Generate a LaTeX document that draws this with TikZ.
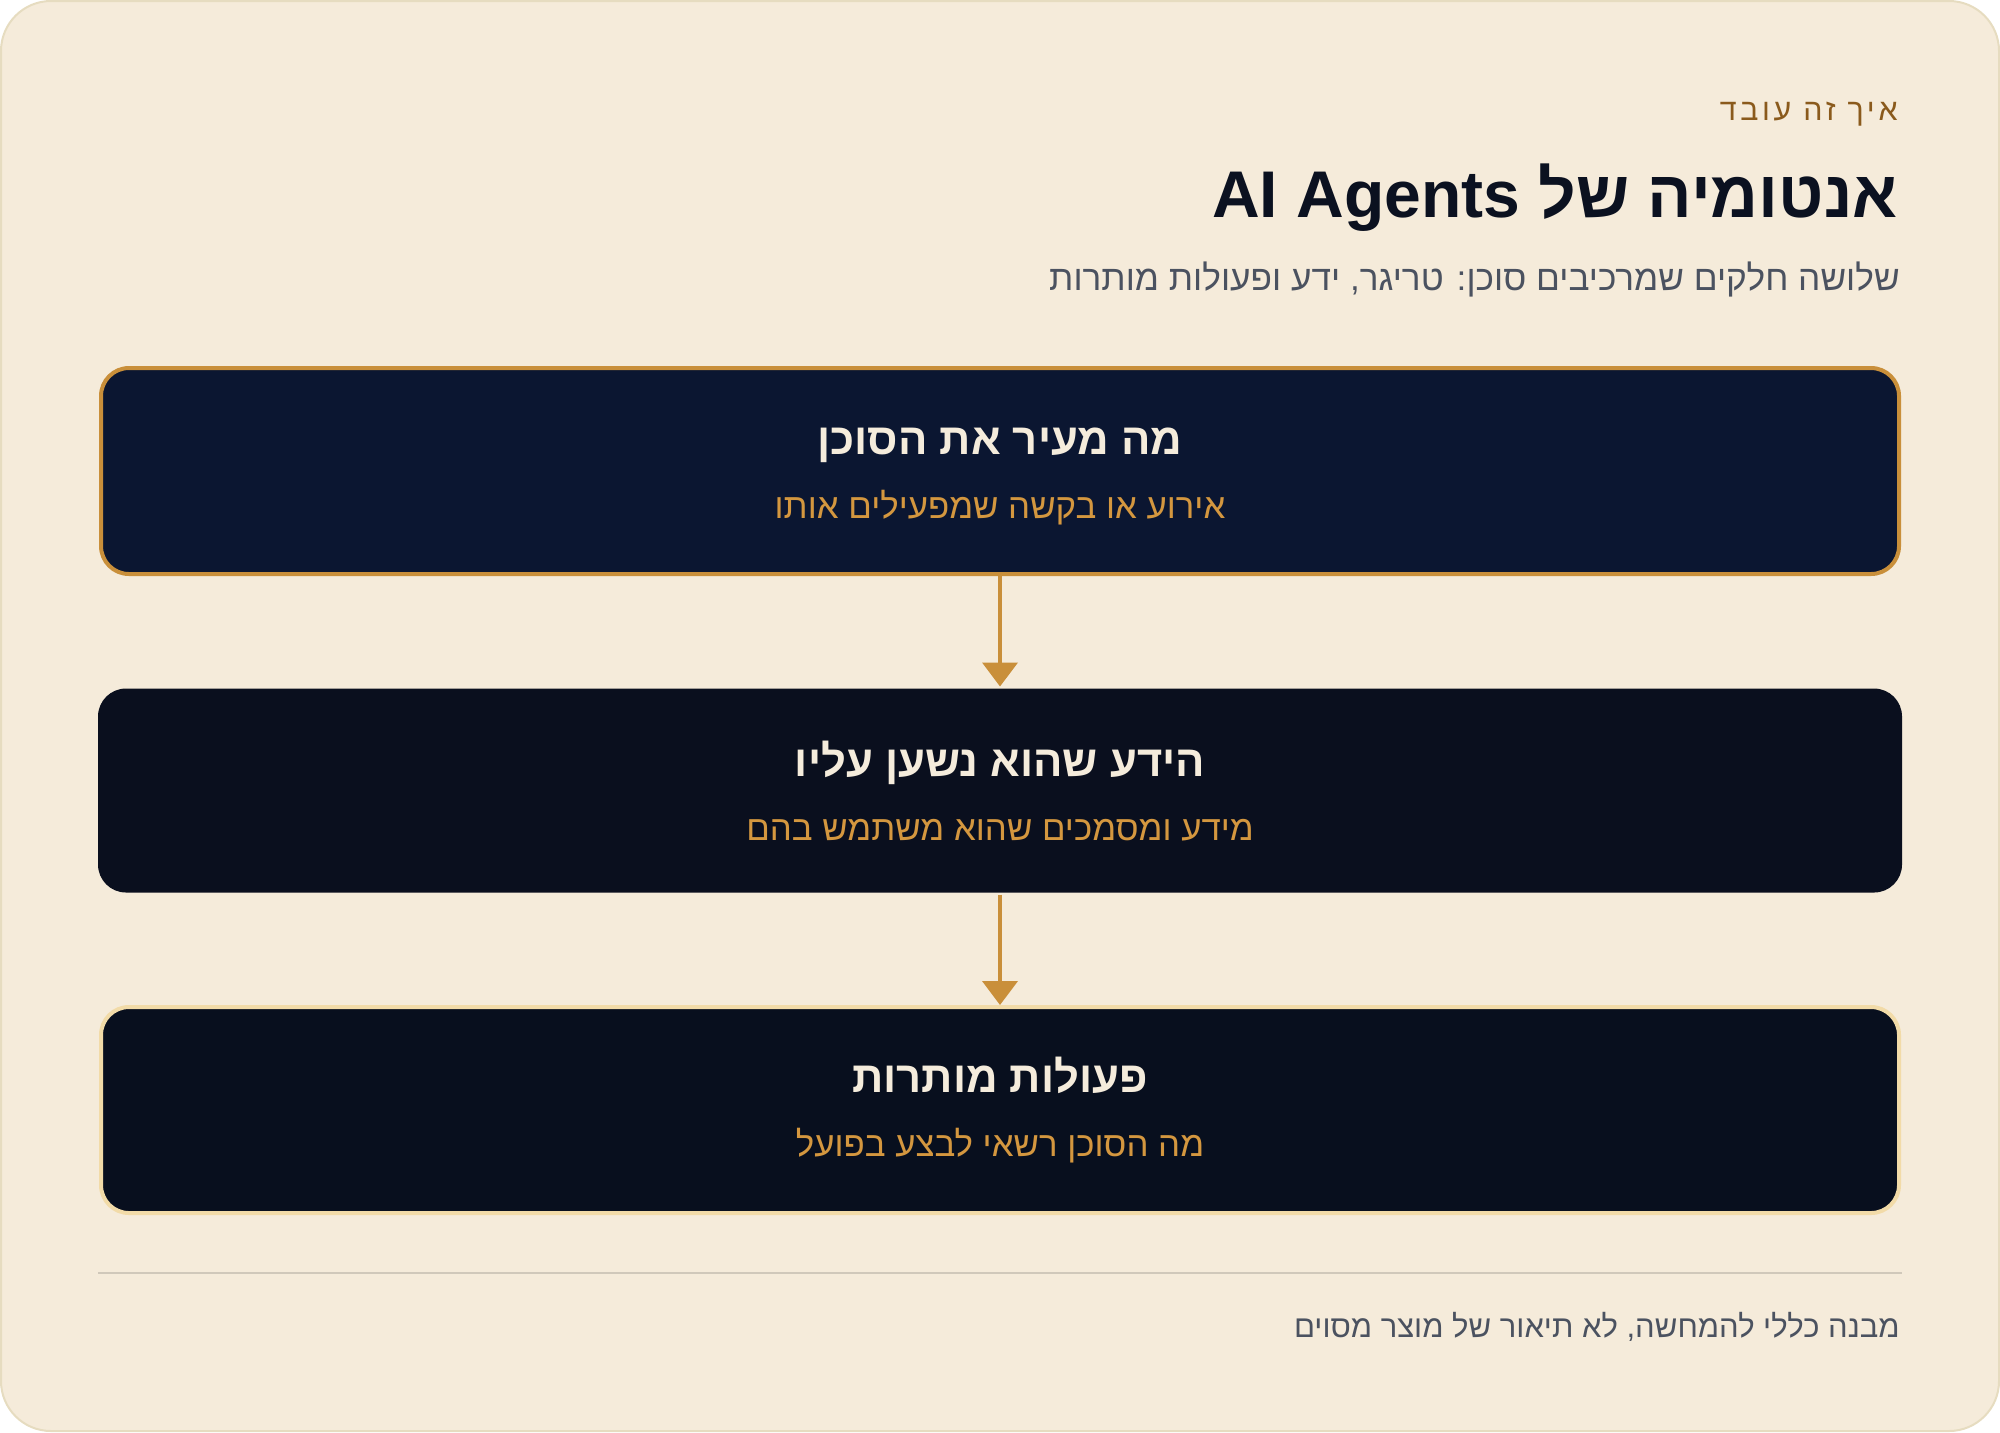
\documentclass[tikz,border=0pt]{standalone}
\usepackage{fontspec}
\TeXXeTstate=1
\newfontfamily\heb[Script=Hebrew]{Liberation Sans}
\newfontfamily\hebsp[Script=Hebrew,LetterSpace=12]{Liberation Sans}
\usetikzlibrary{arrows.meta}
\definecolor{bg}{HTML}{F5EBDA}
\definecolor{cardline}{HTML}{E6DCC0}
\definecolor{navyA}{HTML}{0B1631}
\definecolor{navyB}{HTML}{0A0F1E}
\definecolor{navyC}{HTML}{080F1E}
\definecolor{goldline}{HTML}{C98F3A}
\definecolor{paleline}{HTML}{F2DBA8}
\definecolor{cream}{HTML}{F5ECDC}
\definecolor{goldtext}{HTML}{D4973F}
\definecolor{brown}{HTML}{8A5A1C}
\definecolor{ink}{HTML}{0B1120}
\definecolor{grey}{HTML}{4B5260}
\definecolor{sepline}{HTML}{D0C8BA}
\tikzset{
  stagebox/.style={rectangle, rounded corners=14pt, minimum width=899pt, minimum height=103pt, line width=2pt, inner sep=0pt},
  boxtitle/.style={anchor=base, inner sep=0pt, text=cream, font=\heb\bfseries\fontsize{21.8}{26}\selectfont},
  boxsub/.style={anchor=base, inner sep=0pt, text=goldtext, font=\heb\fontsize{17.4}{21}\selectfont},
  flow/.style={draw=goldline, line width=2pt, -{Triangle[width=17.5pt,length=12pt]}},
  rtext/.style={anchor=base east, inner sep=0pt}
}
\begin{document}
\begin{tikzpicture}[x=0.5pt,y=-0.5pt]
\useasboundingbox (0,0) rectangle (2000,1432);
\draw[fill=bg, draw=cardline, line width=1pt, rounded corners=25pt] (1,1) rectangle (1999,1431);

\node[rtext, text=brown, font=\hebsp\fontsize{15.2}{18}\selectfont] (eyebrow) at (1898,120) {\beginR איך זה עובד\endR};
\node[rtext, text=ink, font=\heb\bfseries\fontsize{33}{40}\selectfont] (title) at (1898,217) {\beginR אנטומיה של \beginL AI Agents\endL\endR};
\node[rtext, text=grey, font=\heb\fontsize{17.6}{21}\selectfont] (subtitle) at (1900,290) {\beginR שלושה חלקים שמרכיבים סוכן: טריגר, ידע ופעולות מותרות\endR};

\node[stagebox, fill=navyA, draw=goldline] (b1) at (1000,471) {};
\node[stagebox, fill=navyB, draw=none, minimum width=902pt, minimum height=102pt] (b2) at (1000,790.5) {};
\node[stagebox, fill=navyC, draw=paleline] (b3) at (1000,1110) {};

\node[boxtitle] (t1) at (1000,454) {\beginR מה מעיר את הסוכן\endR};
\node[boxsub] (s1) at (1000,518) {\beginR אירוע או בקשה שמפעילים אותו\endR};
\node[boxtitle] (t2) at (1000,776) {\beginR הידע שהוא נשען עליו\endR};
\node[boxsub] (s2) at (1000,840) {\beginR מידע ומסמכים שהוא משתמש בהם\endR};
\node[boxtitle] (t3) at (1000,1092) {\beginR פעולות מותרות\endR};
\node[boxsub] (s3) at (1000,1156) {\beginR מה הסוכן רשאי לבצע בפועל\endR};

\draw[flow] (b1.south) -- (b2.north);
\draw[flow] (b2.south) -- (b3.north);

\coordinate (sepL) at (98,1273);
\coordinate (sepR) at (1902,1273);
\draw[sepline, line width=1.2pt] (sepL) -- (sepR);

\node[rtext, text=grey, font=\heb\fontsize{15.5}{19}\selectfont] (footer) at (1900,1337) {\beginR מבנה כללי להמחשה, לא תיאור של מוצר מסוים\endR};
\end{tikzpicture}
\end{document}
